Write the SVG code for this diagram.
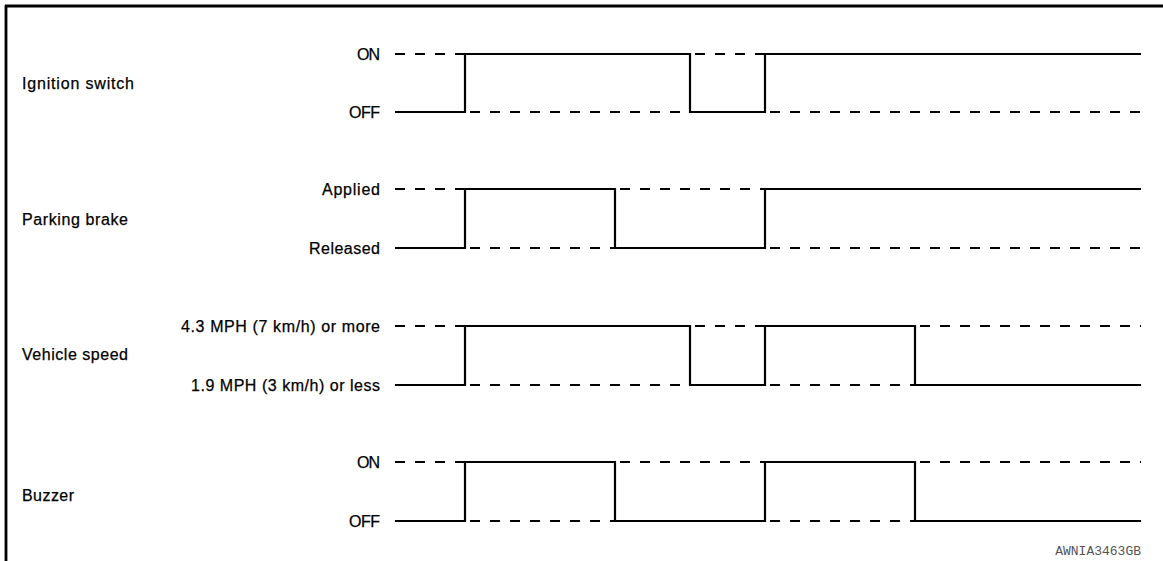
<svg xmlns="http://www.w3.org/2000/svg" width="1163" height="561" viewBox="0 0 1163 561">
<style>
.lbl{font-family:"Liberation Sans",Arial,sans-serif;font-size:16px;fill:#000;stroke:#000;stroke-width:0.25}
.r{text-anchor:end}
.sig{fill:none;stroke:#000;stroke-width:2.2}
.dash{fill:none;stroke:#000;stroke-width:2.2;stroke-dasharray:10 10}
.code{font-family:"Liberation Mono","Courier New",monospace;font-size:13px;fill:#555}
</style>
<rect width="1163" height="561" fill="#fff"/>
<path d="M5,6 H1163 M6,5 V561" fill="none" stroke="#000" stroke-width="2.8"/>

<g id="ignition">
<text class="lbl" x="22" y="89" textLength="112" lengthAdjust="spacing">Ignition switch</text>
<text class="lbl r" x="380" y="60" textLength="23" lengthAdjust="spacing">ON</text>
<text class="lbl r" x="380" y="118" textLength="31" lengthAdjust="spacing">OFF</text>
</g>
<g id="parking">
<text class="lbl" x="22" y="225" textLength="106" lengthAdjust="spacing">Parking brake</text>
<text class="lbl r" x="380" y="195" textLength="58" lengthAdjust="spacing">Applied</text>
<text class="lbl r" x="380" y="254" textLength="71" lengthAdjust="spacing">Released</text>
</g>
<g id="speed">
<text class="lbl" x="22" y="360" textLength="106" lengthAdjust="spacing">Vehicle speed</text>
<text class="lbl r" x="380" y="332" textLength="199" lengthAdjust="spacing">4.3 MPH (7 km/h) or more</text>
<text class="lbl r" x="380" y="391" textLength="189" lengthAdjust="spacing">1.9 MPH (3 km/h) or less</text>
</g>
<g id="buzzer">
<text class="lbl" x="22" y="501" textLength="52" lengthAdjust="spacing">Buzzer</text>
<text class="lbl r" x="380" y="468" textLength="23" lengthAdjust="spacing">ON</text>
<text class="lbl r" x="380" y="527" textLength="31" lengthAdjust="spacing">OFF</text>
</g>

<g id="connectors">
<path class="sig" d="M395,112 H465 V54 H690 V112 H765 V54 H1141"/>
<path class="dash" d="M395,54 H465 M470,112 H690 M695,54 H765 M770,112 H1141"/>

<path class="sig" d="M395,248 H465 V189 H615 V248 H765 V189 H1141"/>
<path class="dash" d="M395,189 H465 M470,248 H615 M620,189 H765 M770,248 H1141"/>

<path class="sig" d="M395,385 H465 V326 H690 V385 H765 V326 H915 V385 H1141"/>
<path class="dash" d="M395,326 H465 M470,385 H690 M695,326 H765 M770,385 H915 M920,326 H1141"/>

<path class="sig" d="M395,521 H465 V462 H615 V521 H765 V462 H915 V521 H1141"/>
<path class="dash" d="M395,462 H465 M470,521 H615 M620,462 H765 M770,521 H915 M920,462 H1141"/>
</g>

<text class="code" x="1141" y="555" text-anchor="end">AWNIA3463GB</text>
</svg>
